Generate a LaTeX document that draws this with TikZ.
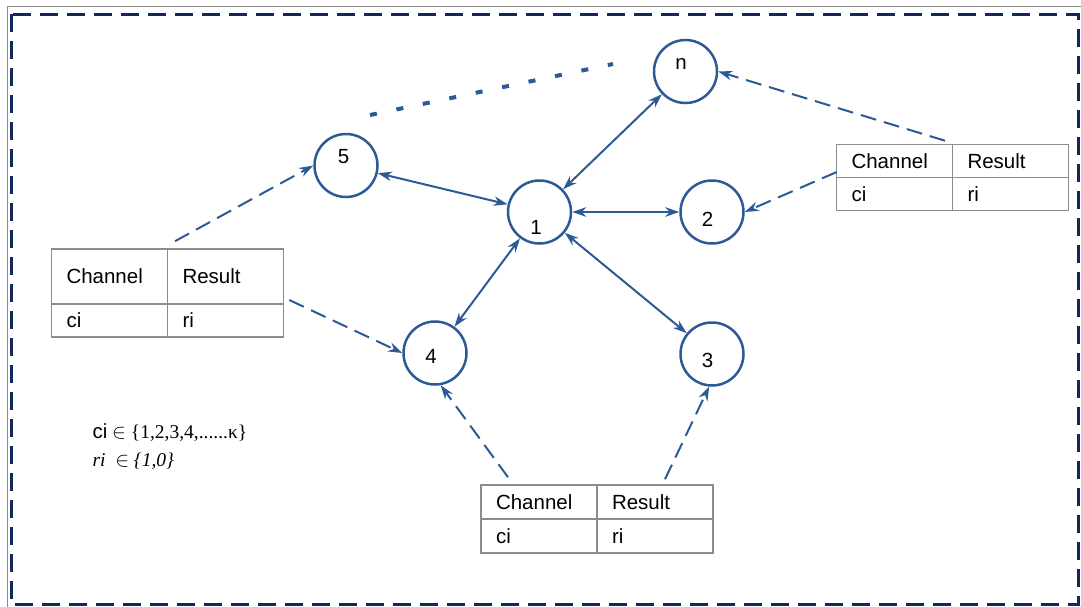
\documentclass[tikz,border=0pt]{standalone}
\usepackage{fontspec}
\setmainfont{Liberation Serif}
\setsansfont{Liberation Sans}
\usetikzlibrary{arrows.meta, arrows}
\usetikzlibrary{matrix, positioning}
\usepackage{xcolor}
\definecolor{linkblue}{RGB}{44,90,150}
\definecolor{framenavy}{RGB}{16,40,92}
\definecolor{cellgray}{RGB}{140,140,140}

\begin{document}
\begin{tikzpicture}[x=1pt, y=-1pt,
    font=\sffamily\fontsize{20.5}{24}\selectfont,
    station/.style={draw=linkblue, line width=2.5pt, circle, minimum size=63pt, inner sep=0pt},
    cell/.style={draw=cellgray, line width=1.2pt, text width=86pt, inner xsep=15pt, minimum height=33pt,
                 text height=14.7pt, text depth=0pt, align=left},
    report/.style={matrix of nodes, nodes={cell}, column sep=-1.2pt, row sep=-1.2pt, inner sep=0pt},
    link/.style={linkblue, line width=2pt, {Stealth[length=14pt,width=9.5pt]}-{Stealth[length=14pt,width=9.5pt]}},
    feed/.style={linkblue, line width=2pt, dash pattern=on 16pt off 8pt, -{Stealth[length=14pt,width=9.5pt]}}]
  \useasboundingbox (0,0) rectangle (1081,606);

  % frame round the whole picture
  \draw[cellgray, line width=1pt] (7,6) rectangle (1095,620);
  \draw[framenavy, line width=3pt, dash pattern=on 18pt off 9pt] (11,14) rectangle (1078,604);

  % stations, 1 in the middle
  \node[station, label={[xshift=-3.5pt, yshift=-15.5pt]center:1}] (s1) at (539.5,212) {};
  \node[station, label={[xshift=-2.5pt, yshift=8.5pt]center:5}] (s5) at (346,165.5) {};
  \node[station, label={[xshift=-4.5pt, yshift=7.5pt]center:n}] (sn) at (685.5,71.5) {};
  \node[station, label={[xshift=-4.5pt, yshift=-7.5pt]center:2}] (s2) at (712,212) {};
  \node[station, label={[xshift=-4.5pt, yshift=-6pt]center:3}] (s3) at (712,354) {};
  \node[station, label={[xshift=-4pt, yshift=-3.5pt]center:4}] (s4) at (435,353) {};

  % report tables
  \matrix [report, row 1/.style={nodes={minimum height=55pt}}, ampersand replacement=\&]
    (tblL) at (167.5,293)
    {
        Channel \& Result \\
        ci \& ri \\
    };
  \matrix [report, ampersand replacement=\&]
    (tblR) at (952.5,177.5)
    {
        Channel \& Result \\
        ci \& ri \\
    };
  \matrix [report, row 1/.style={nodes={minimum height=34pt}}, row 2/.style={nodes={minimum height=34pt}},
           ampersand replacement=\&]
    (tblB) at (597,519)
    {
        Channel \& Result \\
        ci \& ri \\
    };

  % legend
  \node[anchor=west, align=left, font=\rmfamily\fontsize{19.5}{28}\selectfont] (legend) at (89,447)
    {{\sffamily\fontsize{20.5}{24}\selectfont ci} $\in$ \{1,2,3,4,......κ\}\\
     \textit{ri} \ $\in$ \textit{\{1,0\}}};

  % links between stations
  \path [link] (s1) edge (s5);
  \path [link] (s1) edge (sn);
  \path [link] (s1) edge (s2);
  \path [link] (s1) edge (s3);
  \path [link] (s1) edge (s4);

  % reports sent to stations
  \path [feed] ([shift={(7.5,-7)}]tblL.north) edge (s5.west);
  \path [feed] ([shift={(5,7)}]tblL.east) edge (s4.west);
  \path [feed] ([shift={(-89,-7)}]tblB.north) edge (s4.280);
  \path [feed] ([shift={(68,-5)}]tblB.north) edge (s3.265);
  \path [feed] ([shift={(-7.5,-3)}]tblR.north) edge (sn.east);
  \path [feed] ([shift={(1,-5.5)}]tblR.west) edge (s2.east);

  % dotted trail towards n
  \coordinate (dotA) at (370,115);
  \coordinate (dotB) at (613,64);
  \draw[linkblue, line width=4pt, dash pattern=on 7pt off 20pt] (dotA) -- (dotB);
\end{tikzpicture}
\end{document}
